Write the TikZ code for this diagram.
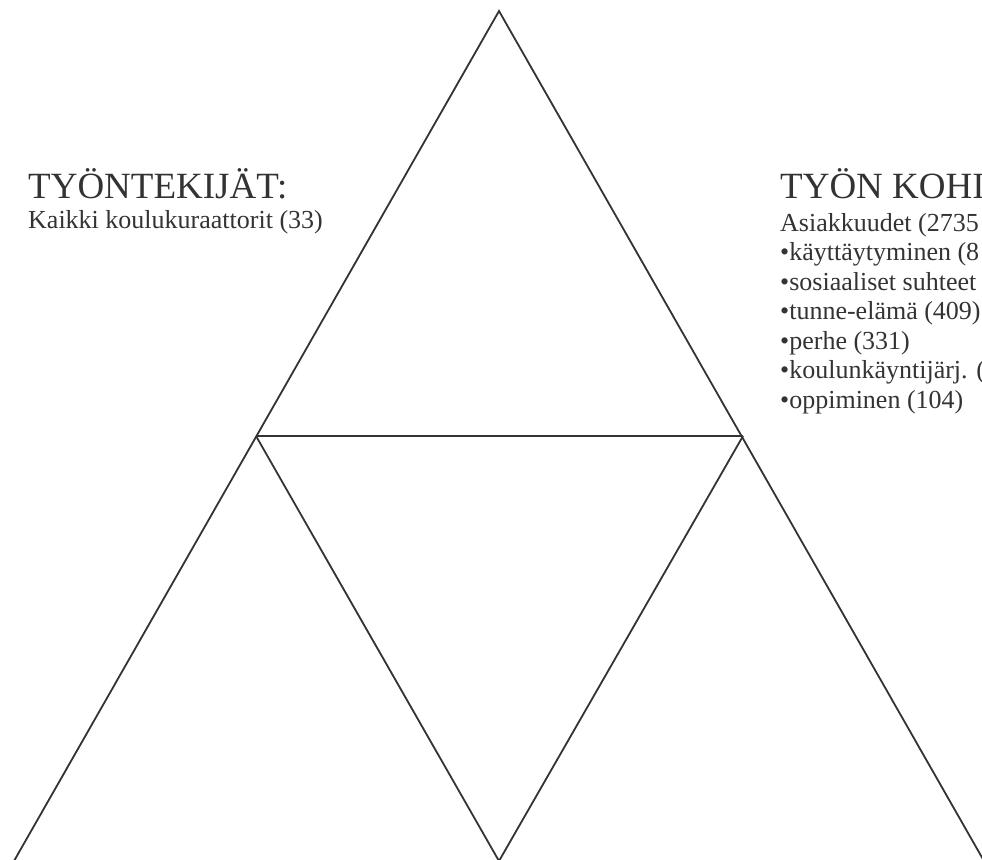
\documentclass[tikz,border=0pt]{standalone}
\usepackage{fontspec}
\setmainfont{Liberation Serif}
\definecolor{ink}{HTML}{333333}
\begin{document}
\begin{tikzpicture}[x=1pt,y=-1pt,
  edge/.style={draw=ink,line width=1.8pt,line join=miter},
  title/.style={anchor=base west,inner sep=0pt,text=ink,font=\fontsize{37}{40}\selectfont},
  body/.style={anchor=base west,inner sep=0pt,text=ink,font=\fontsize{26}{29}\selectfont}]
\useasboundingbox (0,0) rectangle (982,859);
\clip (0,0) rectangle (982,859);
\coordinate (apex) at (499,11);
\coordinate (ml) at (256,436);
\coordinate (mr) at (743,436);
\coordinate (bl) at (14,861);
\coordinate (bc) at (499,861);
\coordinate (br) at (984,861);
\draw[edge] (bl) -- (apex) -- (br);
\draw[edge] (ml) -- (mr);
\draw[edge] (ml) -- (bc) -- (mr);
\node[title] (t1) at (28,198) {TYÖNTEKIJÄT:};
\node[body] (b1) at (28,228) {Kaikki koulukuraattorit (33)};
\node[title] (t2) at (780,198) {TYÖN KOHI};
\node[body] (r1) at (780,231) {Asiakkuudet (2735};
\node[body] (r2) at (780,260.5) {•käyttäytyminen (8};
\node[body] (r3) at (780,290) {•sosiaaliset suhteet};
\node[body] (r4) at (780,319.5) {•tunne-elämä (409)};
\node[body] (r5) at (780,349) {•perhe (331)};
\node[body] (r6) at (780,378.5) {•koulunkäyntijärj. (};
\node[body] (r7) at (780,408) {•oppiminen (104)};
\end{tikzpicture}
\end{document}
